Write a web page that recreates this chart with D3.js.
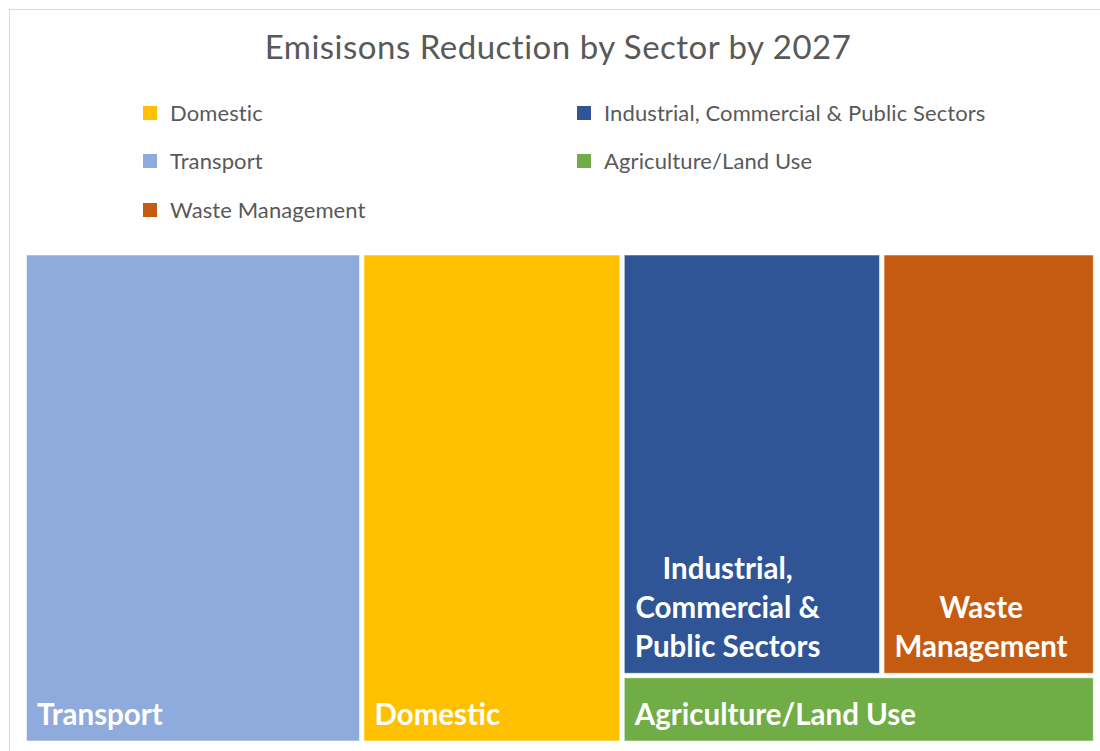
<!DOCTYPE html>
<html>
<head>
<meta charset="utf-8">
<script src="https://cdn.jsdelivr.net/npm/d3@7"></script>
<style>
  html, body { margin: 0; padding: 0; background: #fff; }
  svg { display: block; font-family: Lato, "Open Sans", sans-serif; }
</style>
</head>
<body>
<svg id="chart" width="1100" height="751"></svg>
<script>
// Sectors in legend order, with their share of the emissions reduction (%)
const sectors = ["Domestic", "Industrial, Commercial & Public Sectors", "Transport", "Agriculture/Land Use", "Waste Management"];
const reductions = [24.3, 20.9, 31.5, 6.1, 17.2];
const sectorColors = ["#FFC000", "#2F5597", "#8FAADC", "#70AD47", "#C55A11"];
const chartTitle = "Emisisons Reduction by Sector by 2027";

const svg = d3.select("#chart");
const W = 1100, H = 751;

// chart frame
svg.append("rect")
  .attr("x", 9.5).attr("y", 9.5)
  .attr("width", W + 20).attr("height", H + 20)
  .attr("fill", "#fff").attr("stroke", "#d9d9d9").attr("stroke-width", 1);

// title
svg.append("text")
  .attr("x", 558).attr("y", 58.5)
  .attr("text-anchor", "middle")
  .attr("font-size", 33)
  .attr("letter-spacing", 0.5)
  .attr("fill", "#595959")
  .text(chartTitle);

const color = d3.scaleOrdinal().domain(sectors).range(sectorColors);

// legend: two columns, filled row by row
const legendCols = [143, 577];
const legendRows = [113, 161, 210];
const legend = svg.append("g");
sectors.forEach((s, i) => {
  const gx = legendCols[i % 2], gy = legendRows[Math.floor(i / 2)];
  const g = legend.append("g").attr("transform", `translate(${gx},${gy})`);
  g.append("rect").attr("x", 0).attr("y", -7).attr("width", 14).attr("height", 14).attr("fill", color(s));
  g.append("text").attr("x", 27).attr("y", 8).attr("font-size", 22).attr("letter-spacing", 0.1)
    .attr("fill", "#595959").text(s);
});

// treemap: two largest sectors as full-height columns, the rest stacked
const items = sectors.map((s, i) => ({ name: s, value: reductions[i] }))
  .sort((a, b) => b.value - a.value);
const tree = {
  children: [
    items[0],
    items[1],
    { children: [ { children: [items[2], items[3]] }, items[4] ] }
  ]
};

const root = d3.hierarchy(tree).sum(d => d.value || 0);

const x0 = 26, y0 = 254.5, x1 = 1093.8, y1 = 741.5;
d3.treemap()
  .size([x1 - x0, y1 - y0])
  .paddingInner(3.5)
  .tile((node, a, b, c, d) => (node.depth % 2 === 0 ? d3.treemapDice : d3.treemapSlice)(node, a, b, c, d))
  (root);

const cells = svg.append("g").attr("transform", `translate(${x0},${y0})`)
  .selectAll("g").data(root.leaves()).join("g");

cells.append("rect")
  .attr("x", d => d.x0 + 0.5).attr("y", d => d.y0 + 0.5)
  .attr("width", d => d.x1 - d.x0 - 1).attr("height", d => d.y1 - d.y0 - 1)
  .attr("fill", d => color(d.data.name))
  .attr("stroke", "rgba(255,255,255,0.55)").attr("stroke-width", 1);

const fontSize = 29.5, lineH = 39, pad = 11, bottomGap = 17;

// labels sit at the bottom-left of each cell; wrapped lines are centred
// within the block set by the longest line
cells.each(function (d) {
  const g = d3.select(this);
  const maxW = d.x1 - d.x0 - 2 * pad;
  const probe = g.append("text").attr("font-size", fontSize).attr("font-weight", 700);
  const measure = s => { probe.text(s); return probe.node().getComputedTextLength(); };
  let lines = [d.data.name];
  if (measure(d.data.name) > maxW) {
    lines = [];
    let cur = "";
    d.data.name.split(" ").forEach(w => {
      const test = cur ? cur + " " + w : w;
      if (measure(test) > maxW && cur) { lines.push(cur); cur = w; }
      else cur = test;
    });
    if (cur) lines.push(cur);
  }
  const blockW = d3.max(lines, measure);
  probe.remove();
  const wrapped = lines.length > 1;
  const t = g.append("text")
    .attr("font-size", fontSize).attr("font-weight", 700).attr("fill", "#fff")
    .attr("text-anchor", wrapped ? "middle" : "start");
  const tx = wrapped ? d.x0 + pad + blockW / 2 : d.x0 + pad;
  const baseY = d.y1 - bottomGap;
  lines.forEach((ln, i) => {
    t.append("tspan").attr("x", tx).attr("y", baseY - (lines.length - 1 - i) * lineH).text(ln);
  });
});
</script>
</body>
</html>
